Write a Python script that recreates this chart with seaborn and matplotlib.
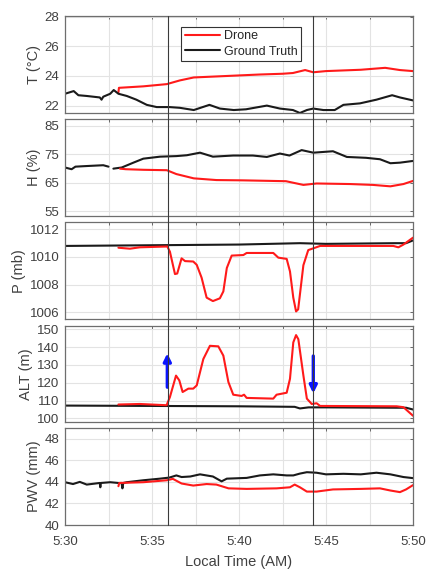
import matplotlib
matplotlib.use("Agg")
import matplotlib.pyplot as plt
import matplotlib.transforms as mtransforms
from matplotlib.lines import Line2D
import seaborn as sns

# время в минутах после 5:30
gt_t_time = [0, 0.5, 0.77, 1.25, 2.0, 2.1, 2.2, 2.6, 2.8, 3.07, 3.55, 4.1, 4.7, 5.27, 6.0, 6.6, 7.4, 8.3, 8.9,
             9.7, 10.4, 11.6, 12.35, 13.1, 13.5, 13.9, 14.27, 14.85, 15.5, 16.0, 16.95, 17.9, 18.8, 19.25, 20]
gt_t = [22.8, 22.98, 22.7, 22.65, 22.55, 22.4, 22.6, 22.8, 23.05, 22.8, 22.65, 22.4, 22.05, 21.9, 21.9, 21.85, 21.7,
        22.05, 21.8, 21.7, 21.75, 22.0, 21.8, 21.7, 21.5, 21.7, 21.8, 21.7, 21.7, 22.05, 22.15, 22.4, 22.7, 22.55, 22.35]
dr_t_time = [3.07, 3.1, 4.5, 5.85, 6.6, 7.4, 9.3, 11.2, 12.5, 13.1, 13.8, 14.27, 15.0, 17.0, 18.4, 19.25, 20]
dr_t = [22.9, 23.2, 23.3, 23.45, 23.7, 23.9, 24.0, 24.1, 24.15, 24.2, 24.4, 24.25, 24.33, 24.42, 24.55, 24.4, 24.33]

gt_h_time_a = [0, 0.38, 0.6, 1.2, 2.2, 2.5]
gt_h_a = [70.3, 69.7, 70.6, 70.8, 71.1, 70.6]
gt_h_time_b = [2.78, 3.26, 3.93, 4.5, 5.46, 6.4, 7.0, 7.76, 8.5, 9.67, 10.8, 11.6, 12.35, 12.9, 13.6, 14.27, 15.4,
               16.2, 17.3, 18.1, 18.7, 19.25, 20]
gt_h_b = [69.9, 70.3, 72.0, 73.4, 74.1, 74.3, 74.6, 75.5, 74.1, 74.5, 74.5, 74.0, 75.2, 74.5, 76.4, 75.5, 76.0,
          74.0, 73.7, 73.2, 71.8, 72.0, 72.6]
dr_h_time = [3.16, 3.5, 4.5, 5.85, 6.4, 7.4, 8.7, 10.2, 12.7, 13.7, 14.46, 16.4, 17.7, 18.7, 19.45, 20]
dr_h = [69.9, 69.7, 69.5, 69.35, 68.0, 66.5, 65.9, 65.8, 65.5, 64.2, 64.7, 64.5, 64.2, 63.7, 64.5, 65.6]

gt_p_time = [0, 5, 10, 13.5, 15, 19, 19.6, 20]
gt_p = [1010.8, 1010.85, 1010.9, 1011.0, 1010.95, 1011.0, 1011.0, 1011.2]
dr_p_time = [3.07, 3.73, 4.3, 5.88, 6.03, 6.32, 6.45, 6.7, 6.9, 7.37, 7.57, 7.85, 8.14, 8.5, 8.9, 9.1, 9.3, 9.58,
             10.25, 10.44, 11.97, 12.26, 12.74, 12.93, 13.12, 13.28, 13.4, 13.7, 13.98, 14.37, 14.66, 16.95, 18.87,
             19.16, 19.45, 20]
dr_p = [1010.67, 1010.6, 1010.7, 1010.76, 1010.38, 1008.76, 1008.8, 1009.9, 1009.7, 1009.67, 1009.43, 1008.5,
        1007.05, 1006.8, 1007.0, 1007.5, 1009.2, 1010.1, 1010.14, 1010.29, 1010.29, 1009.95, 1009.86, 1008.95,
        1007.05, 1006.05, 1006.2, 1009.4, 1010.5, 1010.67, 1010.8, 1010.8, 1010.8, 1010.7, 1010.9, 1011.4]

gt_alt_time = [0, 5, 10, 13.2, 13.5, 14.0, 15, 19, 19.6, 20]
gt_alt = [107.2, 107.0, 106.8, 106.5, 105.6, 106.2, 106.2, 106.0, 106.0, 105.0]
dr_alt_time = [3.07, 4.3, 5.84, 6.03, 6.38, 6.57, 6.76, 7.09, 7.37, 7.57, 7.95, 8.33, 8.81, 9.1, 9.39, 9.67, 10.15,
               10.29, 10.44, 11.97, 12.16, 12.74, 12.93, 13.12, 13.28, 13.41, 13.7, 13.9, 14.18, 14.46, 14.66,
               19.06, 19.45, 20]
dr_alt = [107.8, 108.1, 107.4, 112, 124, 121.3, 114.8, 116.7, 116.7, 118.5, 133.3, 140.7, 140.4, 135.2, 120.4,
          113.3, 112.6, 113.3, 111.5, 111.1, 113.3, 114.4, 122.2, 142.6, 146.7, 144.4, 124.1, 111.1, 108.1, 108.5,
          107.0, 106.8, 106.3, 101.5]

gt_pwv_time = [0, 0.46, 0.85, 1.25, 2.0, 2.03, 2.06, 2.6, 3.07, 3.25, 3.3, 3.35, 3.55, 4.5, 5.46, 6.0, 6.4, 6.7,
               7.2, 7.76, 8.5, 9.0, 9.3, 10.44, 11.2, 11.97, 12.74, 13.12, 13.5, 13.9, 14.46, 15.0, 16.0, 17.0,
               17.9, 18.7, 19.45, 20]
gt_pwv = [43.97, 43.8, 44.0, 43.75, 43.9, 43.5, 43.9, 43.97, 43.9, 43.9, 43.4, 43.9, 43.97, 44.15, 44.3, 44.4,
          44.6, 44.45, 44.5, 44.7, 44.5, 44.05, 44.3, 44.37, 44.6, 44.7, 44.6, 44.6, 44.77, 44.9, 44.85, 44.7,
          44.75, 44.7, 44.85, 44.7, 44.45, 44.35]
dr_pwv_time = [3.07, 3.12, 4.5, 5.85, 6.2, 6.7, 7.37, 8.14, 8.7, 9.4, 10.44, 12.16, 12.93, 13.2, 13.5, 13.9, 14.46,
               15.4, 17.0, 18.1, 18.7, 19.25, 19.6, 20]
dr_pwv = [43.6, 43.9, 43.97, 44.15, 44.28, 43.85, 43.66, 43.8, 43.75, 43.4, 43.35, 43.4, 43.5, 43.75, 43.5, 43.1,
          43.1, 43.3, 43.35, 43.4, 43.2, 43.05, 43.3, 43.7]

x_ticks = [0, 2.5, 5, 7.5, 10, 12.5, 15, 17.5, 20]
x_labels = ["5:30", "", "5:35", "", "5:40", "", "5:45", "", "5:50"]
event_times = [5.94, 14.28]
arrow_up = (5.88, 117.5, 136.5)
arrow_down = (14.27, 135.0, 114.0)

RED = "#ff1a1a"
BLACK = "#1a1a1a"

sns.set_style("whitegrid")
plt.rcParams["font.family"] = ["Liberation Sans", "DejaVu Sans"]

fig = plt.figure(figsize=(4.26, 5.69), dpi=100)
L, W = 65 / 426, 348 / 426
boxes = [(16, 113), (119.3, 216), (222.5, 319), (326, 422), (428, 525)]
axes = [fig.add_axes([L, 1 - b / 569, W, (b - t) / 569]) for t, b in boxes]

panels = [
    ("T (°C)", (21.5, 28.05), [22, 24, 26, 28]),
    ("H (%)", (53.3, 87.2), [55, 65, 75, 85]),
    ("P (mb)", (1005.5, 1012.5), [1006, 1008, 1010, 1012]),
    ("ALT (m)", (98.0, 151.8), [100, 110, 120, 130, 140, 150]),
    ("PWV (mm)", (40, 49), [40, 42, 44, 46, 48]),
]

lw = 1.5
sns.lineplot(x=dr_t_time, y=dr_t, ax=axes[0], color=RED, lw=lw, label="Drone", estimator=None)
sns.lineplot(x=gt_t_time, y=gt_t, ax=axes[0], color=BLACK, lw=lw, label="Ground Truth", estimator=None)

sns.lineplot(x=gt_h_time_a, y=gt_h_a, ax=axes[1], color=BLACK, lw=lw, estimator=None)
sns.lineplot(x=gt_h_time_b, y=gt_h_b, ax=axes[1], color=BLACK, lw=lw, estimator=None)
sns.lineplot(x=dr_h_time, y=dr_h, ax=axes[1], color=RED, lw=lw, estimator=None)

sns.lineplot(x=gt_p_time, y=gt_p, ax=axes[2], color=BLACK, lw=lw, estimator=None)
sns.lineplot(x=dr_p_time, y=dr_p, ax=axes[2], color=RED, lw=lw, estimator=None)

sns.lineplot(x=gt_alt_time, y=gt_alt, ax=axes[3], color=BLACK, lw=lw, estimator=None)
sns.lineplot(x=dr_alt_time, y=dr_alt, ax=axes[3], color=RED, lw=lw, estimator=None)

sns.lineplot(x=gt_pwv_time, y=gt_pwv, ax=axes[4], color=BLACK, lw=lw, estimator=None)
sns.lineplot(x=dr_pwv_time, y=dr_pwv, ax=axes[4], color=RED, lw=lw, estimator=None)

for ax, (lab, lim, yt) in zip(axes, panels):
    ax.set_xlim(0, 20)
    ax.set_ylim(*lim)
    ax.set_yticks(yt)
    ax.set_xticks(x_ticks)
    ax.set_ylabel(lab, fontsize=10.5, color="#404040", labelpad=3)
    ax.grid(True, color="#e3e3e3", lw=0.8)
    ax.tick_params(direction="in", length=2.5, width=0.6, colors="#555555", labelsize=9.5,
                   labelcolor="#404040", top=True, right=True)
    ax.tick_params(axis="y", pad=4)
    ax.tick_params(axis="x", pad=8)
    for s in ax.spines.values():
        s.set_color("#6e6e6e")
        s.set_linewidth(0.9)
    if ax is axes[-1]:
        ax.set_xticklabels(x_labels)
        ax.set_xlabel("Local Time (AM)", fontsize=10.5, color="#404040", labelpad=5)
    else:
        ax.set_xticklabels([])
        ax.set_xlabel("")

leg = axes[0].legend(loc="upper center", bbox_to_anchor=(0.507, 0.89), fontsize=9, frameon=True,
                     fancybox=False, edgecolor="#333333", framealpha=1, handlelength=2.8,
                     borderpad=0.3, labelspacing=0.25, handletextpad=0.3, borderaxespad=0)
leg.get_frame().set_linewidth(0.8)
for txt in leg.get_texts():
    txt.set_color("#262626")

# вертикальные линии через все панели
trans = mtransforms.blended_transform_factory(axes[0].transData, fig.transFigure)
y_top = 1 - boxes[0][0] / 569
y_bot = 1 - boxes[-1][1] / 569
for t in event_times:
    fig.add_artist(Line2D([t, t], [y_bot, y_top], transform=trans, color="#3a3a3a", lw=0.8, zorder=5))

# стрелки взлёта и посадки
for x0, y0, y1 in [arrow_up, arrow_down]:
    axes[3].annotate("", xy=(x0, y1), xytext=(x0, y0),
                     arrowprops=dict(arrowstyle="-|>", color="#0a14ff", lw=2.4, mutation_scale=11,
                                     shrinkA=0, shrinkB=0))

plt.savefig("out.png", dpi=100)
plt.close()
